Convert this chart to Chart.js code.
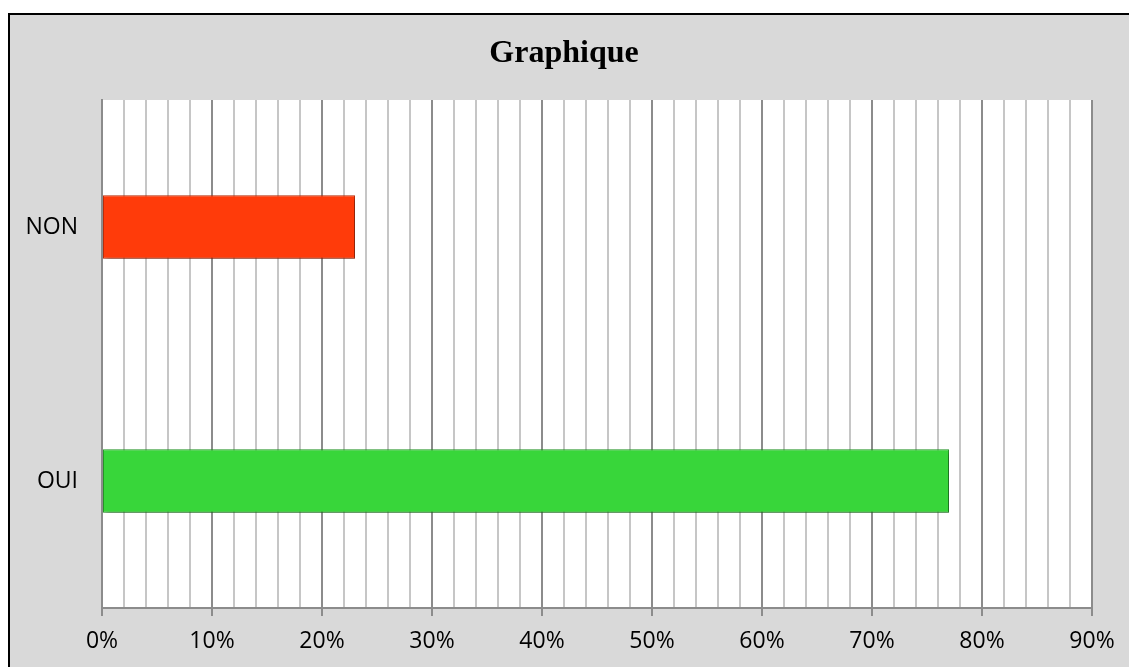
<!DOCTYPE html>
<html>
<head>
<meta charset="utf-8">
<script src="https://cdn.jsdelivr.net/npm/chart.js@4/dist/chart.umd.min.js"></script>
<style>
  html, body { margin: 0; padding: 0; background: #ffffff; overflow: hidden; }
  #wrap { position: absolute; left: 0; top: 0; width: 1129px; height: 667px; }
</style>
</head>
<body>
<div id="wrap"><canvas id="myChart" width="1129" height="667"></canvas></div>
<script>
// DATA
const chartTitle = 'Graphique';
const categories = ['NON', 'OUI'];
const percentValues = [23, 77];
const barColors = ['#ff3b0a', '#38d63a'];
const barBorders = ['#c2300c', '#2a9c2c'];
const axisMax = 90;
const gridStep = 2;

// background, frame and title (title centered on the whole frame, not the plot)
const frame = {
  id: 'frame',
  beforeDraw(chart) {
    const ctx = chart.ctx;
    const a = chart.chartArea;
    ctx.save();
    ctx.fillStyle = '#ffffff';
    ctx.fillRect(0, 0, chart.width, chart.height);
    ctx.fillStyle = '#d9d9d9';
    ctx.fillRect(9, 14, chart.width, chart.height);
    ctx.strokeStyle = '#000000';
    ctx.lineWidth = 2;
    ctx.beginPath();
    ctx.moveTo(9, chart.height + 5);
    ctx.lineTo(9, 14);
    ctx.lineTo(chart.width + 5, 14);
    ctx.stroke();
    ctx.fillStyle = '#ffffff';
    ctx.fillRect(a.left, a.top, a.right - a.left, a.bottom - a.top);
    ctx.restore();
  },
  beforeDatasetsDraw(chart) {
    const ctx = chart.ctx;
    ctx.save();
    ctx.shadowColor = 'rgba(0,0,0,0.35)';
    ctx.shadowBlur = 5;
    ctx.shadowOffsetX = 2;
    ctx.shadowOffsetY = 3;
  },
  afterDatasetsDraw(chart) {
    chart.ctx.restore();
  },
  afterDraw(chart) {
    const ctx = chart.ctx;
    ctx.save();
    ctx.fillStyle = '#000000';
    ctx.font = 'bold 32px "Liberation Serif", "Times New Roman", serif';
    ctx.textAlign = 'center';
    ctx.textBaseline = 'alphabetic';
    ctx.fillText(chartTitle, 564, 62);
    ctx.restore();
  }
};

const isMajor = (v) => v % 10 === 0;

new Chart(document.getElementById('myChart'), {
  type: 'bar',
  data: {
    labels: categories,
    datasets: [{
      data: percentValues,
      backgroundColor: barColors,
      borderColor: barBorders,
      borderWidth: 1,
      borderSkipped: false,
      barPercentage: 0.25,
      categoryPercentage: 1
    }]
  },
  options: {
    indexAxis: 'y',
    responsive: false,
    animation: false,
    layout: { padding: { left: 0, right: 37, top: 100, bottom: 0 } },
    plugins: {
      legend: { display: false },
      tooltip: { enabled: false },
      title: { display: false }
    },
    scales: {
      x: {
        min: 0,
        max: axisMax,
        ticks: {
          stepSize: gridStep,
          autoSkip: false,
          maxRotation: 0,
          padding: 12,
          color: '#000000',
          font: { family: '"Open Sans", sans-serif', size: 23 },
          callback: (v) => isMajor(v) ? v + '%' : ''
        },
        grid: {
          color: (c) => isMajor(c.tick.value) ? '#8c8c8c' : '#c6c6c6',
          tickColor: (c) => isMajor(c.tick.value) ? '#8c8c8c' : 'rgba(0,0,0,0)',
          lineWidth: 2,
          tickLength: 8
        },
        border: { display: true, color: '#8c8c8c', width: 2 },
        afterFit: (scale) => { scale.height = 59; }
      },
      y: {
        ticks: {
          color: '#000000',
          padding: 24,
          font: { family: '"Open Sans", sans-serif', size: 23 }
        },
        grid: { display: false, drawTicks: false },
        border: { display: true, color: '#8c8c8c', width: 2 },
        afterFit: (scale) => { scale.width = 102; }
      }
    }
  },
  plugins: [frame]
});
</script>
</body>
</html>
